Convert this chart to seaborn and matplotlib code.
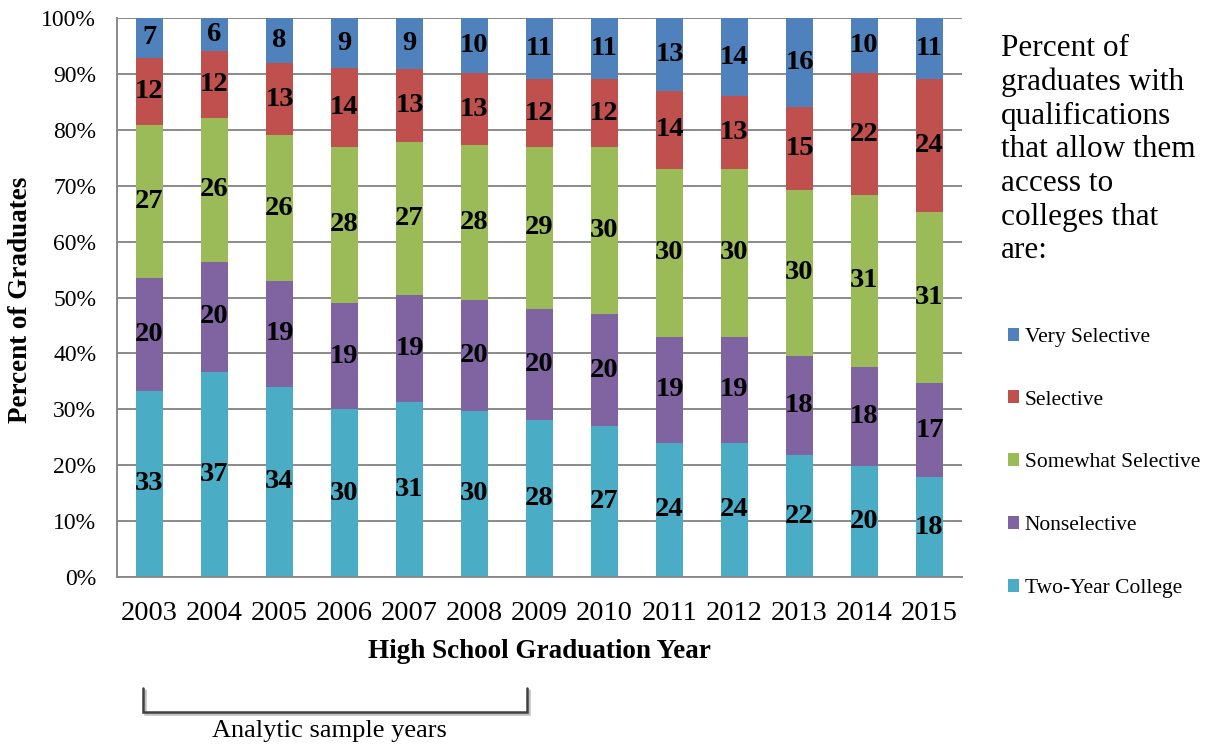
import numpy as np
import pandas as pd
import matplotlib
matplotlib.use("Agg")
import matplotlib.pyplot as plt
import seaborn as sns
from matplotlib.lines import Line2D
from matplotlib.patches import Patch
import matplotlib.patheffects as pe

# Graduation years and the share of graduates in each college-access tier
years = ["2003", "2004", "2005", "2006", "2007", "2008", "2009",
         "2010", "2011", "2012", "2013", "2014", "2015"]
two_year = [33, 37, 34, 30, 31, 30, 28, 27, 24, 24, 22, 20, 18]
nonselective = [20, 20, 19, 19, 19, 20, 20, 20, 19, 19, 18, 18, 17]
somewhat_selective = [27, 26, 26, 28, 27, 28, 29, 30, 30, 30, 30, 31, 31]
selective = [12, 12, 13, 14, 13, 13, 12, 12, 14, 13, 15, 22, 24]
very_selective = [7, 6, 8, 9, 9, 10, 11, 11, 13, 14, 16, 10, 11]

tiers = ["Two-Year College", "Nonselective", "Somewhat Selective",
         "Selective", "Very Selective"]
tier_values = [two_year, nonselective, somewhat_selective, selective, very_selective]
colors = {
    "Two-Year College": "#4BACC6",
    "Nonselective": "#8064A2",
    "Somewhat Selective": "#9BBB59",
    "Selective": "#C0504D",
    "Very Selective": "#4F81BD",
}

# 100% stacked layout: normalise each year to its total
vals = np.array(tier_values, dtype=float)
shares = vals / vals.sum(axis=0) * 100
tops = np.cumsum(shares, axis=0)
bottoms = tops - shares

long = pd.DataFrame({
    "year": np.tile(years, len(tiers)),
    "tier": np.repeat(tiers, len(years)),
    "top": tops.ravel(),
})

sns.set_theme(style="white")
plt.rcParams["font.family"] = ["Liberation Serif", "DejaVu Serif"]
plt.rcParams["text.color"] = "black"
plt.rcParams["xtick.color"] = "black"
plt.rcParams["ytick.color"] = "black"

fig = plt.figure(figsize=(12.10, 7.47), dpi=100)
ax = fig.add_axes([117 / 1210, 1 - 577 / 747, 845 / 1210, 559 / 747])

grid_gray = "#8A8A8A"
bar_w = 0.415

# Draw cumulative bars from the top tier down so each lower tier covers the rest
for tier in reversed(tiers):
    sns.barplot(data=long[long["tier"] == tier], x="year", y="top",
                order=years, color=colors[tier], saturation=1,
                width=bar_w, ax=ax, linewidth=0, zorder=2)

# Segment value labels
for ti, tier in enumerate(tiers):
    for xi in range(len(years)):
        ax.text(xi, bottoms[ti, xi] + shares[ti, xi] / 2, f"{int(vals[ti, xi])}",
                ha="center", va="center", fontsize=20.5, fontweight="bold",
                color="black", zorder=3)

ax.set_xlim(-0.5, len(years) - 0.5)
ax.set_ylim(0, 100)
ax.set_yticks(np.arange(0, 101, 10))
ax.set_yticklabels([f"{v}%" for v in range(0, 101, 10)], fontsize=17)
ax.yaxis.grid(True, color=grid_gray, linewidth=1.4)
ax.set_axisbelow(True)

ax.set_xticks(range(len(years)))
ax.set_xticklabels(years, fontsize=20.5)
ax.set_xticks(np.arange(-0.5, len(years), 1), minor=True)
ax.tick_params(axis="x", which="major", length=0, pad=17, labelcolor="black")
ax.tick_params(axis="x", which="minor", length=7, width=1.4, color=grid_gray,
               direction="out")
ax.tick_params(axis="y", which="major", length=7, width=1.4, color=grid_gray,
               direction="out", pad=8, labelcolor="black")

for side in ["top", "right"]:
    ax.spines[side].set_visible(False)
for side in ["left", "bottom"]:
    ax.spines[side].set_color(grid_gray)
    ax.spines[side].set_linewidth(1.4)

ax.set_xlabel("")
ax.set_ylabel("")

# Axis titles
fig.text(21 / 1210, 1 - 300 / 747, "Percent of Graduates", rotation=90,
         ha="center", va="center", fontsize=19.5, fontweight="bold")
fig.text(539 / 1210, 1 - 651 / 747, "High School Graduation Year",
         ha="center", va="center", fontsize=19.5, fontweight="bold")

# Legend heading and entries
fig.text(1001 / 1210, 1 - 34 / 747,
         "Percent of\ngraduates with\nqualifications\nthat allow them\naccess to\ncolleges that\nare:",
         ha="left", va="top", fontsize=22.5, linespacing=1.21)

handles = [Patch(facecolor=colors[t], edgecolor="none") for t in reversed(tiers)]
fig.legend(handles, list(reversed(tiers)), loc="upper left",
           bbox_to_anchor=(999 / 1210, 1 - 319 / 747), frameon=False,
           fontsize=15.5, handlelength=0.55, handleheight=0.55,
           handletextpad=0.25, labelspacing=2.03, borderaxespad=0)

# Bracket marking the analytic sample years
xl, xr = 143 / 1210, 527 / 1210
yt, yb = 1 - 688 / 747, 1 - 712 / 747
shadow = [pe.SimpleLineShadow(offset=(1.5, -1.5), shadow_color="#B0B0B0", alpha=0.8),
          pe.Normal()]
fig.add_artist(Line2D([xl, xl, xr, xr], [yt, yb, yb, yt], transform=fig.transFigure,
                      color="#404040", linewidth=1.8, solid_joinstyle="miter",
                      path_effects=shadow))
fig.text(329 / 1210, 1 - 731 / 747, "Analytic sample years",
         ha="center", va="center", fontsize=19)

fig.savefig("out.png", dpi=100)
